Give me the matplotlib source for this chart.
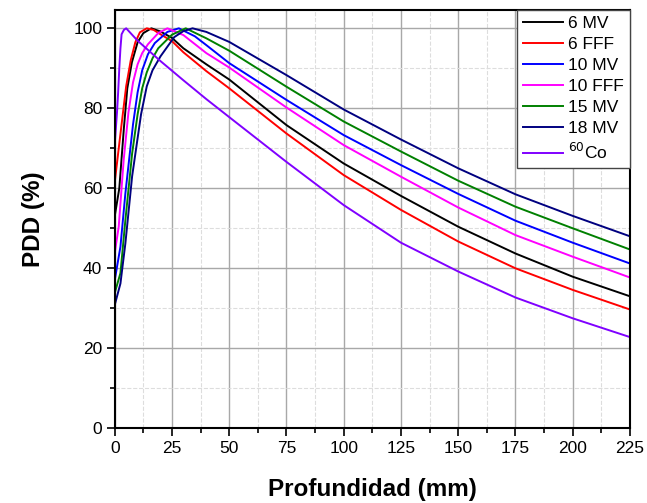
import matplotlib
matplotlib.use("Agg")
import matplotlib.pyplot as plt
from matplotlib.ticker import MultipleLocator

plt.rcParams["font.family"] = ["Liberation Sans", "DejaVu Sans"]

# depth-dose curves, depth in mm, PDD in %
depth_6mv = [0, 2, 4, 5.5, 7.5, 10, 12.5, 16, 20, 25, 30, 40, 50, 75, 100, 125, 150, 175, 200, 225]
pdd_6mv = [53, 60, 75, 85, 91.5, 96.5, 98.8, 100, 99.2, 97.6, 95, 91, 87.2, 75.8, 66.2, 58.1, 50.4, 43.7, 37.9, 33.0]

depth_6fff = [0, 3, 5, 7, 9, 11, 14, 17, 20, 25, 30, 40, 50, 75, 100, 125, 150, 175, 200, 225]
pdd_6fff = [61.5, 76, 85.5, 92, 96.5, 99, 100, 99.6, 98.5, 96.8, 94, 89.3, 85.0, 73.7, 63.3, 54.6, 46.7, 40.0, 34.6, 29.7]

depth_10mv = [0, 2.5, 4.65, 8, 10, 12, 14.5, 17.5, 23, 28, 35, 40, 50, 75, 100, 125, 150, 175, 200, 225]
pdd_10mv = [37, 45.4, 58.7, 76, 84, 89.5, 93.5, 96.3, 99.1, 100, 98, 95.8, 91.3, 82.1, 73.3, 65.8, 58.6, 51.9, 46.4, 41.2]

depth_10fff = [0, 1.75, 3.9, 6, 8, 10, 12, 14.5, 19, 23, 30, 40, 50, 75, 100, 125, 150, 175, 200, 225]
pdd_10fff = [43.8, 50.4, 67, 79, 86.5, 91, 93.8, 96, 98.8, 100, 98.3, 93.8, 90.2, 80.2, 70.8, 62.9, 55.2, 48.3, 42.9, 37.7]

depth_15mv = [0, 2.5, 4.65, 7.6, 10, 12, 14, 16.5, 19, 25, 31, 40, 50, 75, 100, 125, 150, 175, 200, 225]
pdd_15mv = [33.8, 38.8, 52, 68.7, 78.5, 85, 89, 92.5, 95, 98.4, 100, 97.5, 94.4, 85.4, 76.7, 69.2, 61.9, 55.4, 50.0, 44.7]

depth_18mv = [0, 2.5, 4.65, 7.6, 11.5, 14, 16.5, 20, 26, 30, 34, 40, 50, 75, 100, 125, 150, 175, 200, 225]
pdd_18mv = [30.8, 36.2, 46.2, 63, 78.5, 85.5, 89.5, 93, 97.8, 99.3, 100, 99.1, 96.6, 88.3, 79.7, 72.2, 65.0, 58.5, 53.1, 48.0]

depth_co = [0, 0.5, 1, 1.5, 2, 2.5, 3, 4, 5, 10, 20, 30, 40, 50, 75, 100, 125, 150, 175, 200, 225]
pdd_co = [71, 75, 79, 84, 90, 95, 98.5, 99.6, 100, 96.9, 91.8, 87, 82.3, 77.8, 66.6, 55.8, 46.4, 39.2, 32.7, 27.5, 22.8]

series = [
    ("6 MV", depth_6mv, pdd_6mv, "black"),
    ("6 FFF", depth_6fff, pdd_6fff, "#ff0000"),
    ("10 MV", depth_10mv, pdd_10mv, "#0000ff"),
    ("10 FFF", depth_10fff, pdd_10fff, "#ff00ff"),
    ("15 MV", depth_15mv, pdd_15mv, "#008000"),
    ("18 MV", depth_18mv, pdd_18mv, "#000080"),
    ("$^{60}$Co", depth_co, pdd_co, "#8000ff"),
]

fig = plt.figure(figsize=(6.47, 5.03), dpi=100)
ax = fig.add_axes([0.1773, 0.1485, 0.7964, 0.8326])

for label, x, y, color in series:
    ax.plot(x, y, color=color, lw=1.4, label=label)

ax.set_xlim(0, 225)
ax.set_ylim(0, 104.7)
ax.xaxis.set_major_locator(MultipleLocator(25))
ax.xaxis.set_minor_locator(MultipleLocator(12.5))
ax.yaxis.set_major_locator(MultipleLocator(20))
ax.yaxis.set_minor_locator(MultipleLocator(10))

ax.grid(which="major", color="#a8a8a8", lw=1.0, ls="-")
ax.grid(which="minor", color="#dddddd", lw=0.8, ls="--")
ax.set_axisbelow(True)

ax.tick_params(which="major", direction="out", length=6, width=1.2, labelsize=12.5, pad=3)
ax.tick_params(which="minor", direction="out", length=3.5, width=1.2)
for s in ax.spines.values():
    s.set_linewidth(1.5)

ax.set_xlabel("Profundidad (mm)", fontsize=17.5, fontweight="bold", labelpad=16)
ax.set_ylabel("PDD (%)", fontsize=17.5, fontweight="bold", labelpad=20)

leg = ax.legend(loc="upper right", borderaxespad=0, fontsize=12.5, fancybox=False,
                framealpha=1, edgecolor="#444444", handlelength=2.3, handletextpad=0.3,
                labelspacing=0.34, borderpad=0.35)
leg.get_frame().set_linewidth(1.0)

fig.savefig("out.png", dpi=100)
